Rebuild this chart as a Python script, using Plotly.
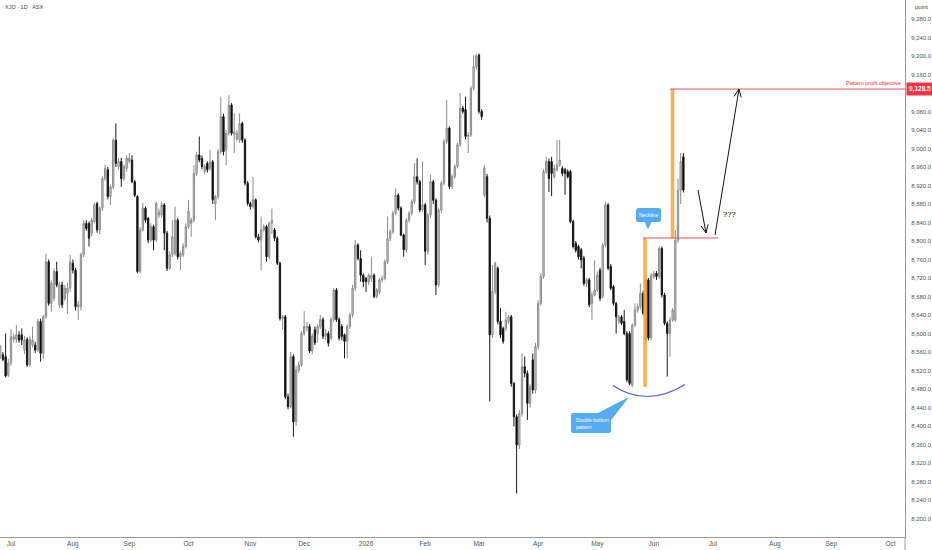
import math
import pandas as pd
import plotly.graph_objects as go

# ---------------- data ----------------
opens = [
    8550, 8554, 8550, 8510, 8536, 8588, 8587, 8597, 8597, 8564, 8587, 8532, 8575, 8575, 8564, 8626, 8557, 8636, 8755, 8665,
    8676, 8734, 8662, 8705, 8676, 8687, 8698, 8752, 8737, 8658, 8658, 8770, 8838, 8838, 8817, 8842, 8881, 8824, 8871, 8935,
    8954, 8896, 8917, 9018, 8961, 8972, 8935, 8957, 8972, 8975, 8928, 8896, 8734, 8824, 8871, 8849, 8802, 8831, 8802, 8856,
    8856, 8878, 8817, 8741, 8770,
    8773, 8845, 8766, 8770, 8788, 8831, 8838, 8845, 8946, 8986, 8978, 8950, 8968, 8957, 8971, 8880, 8896, 8993, 9069, 8997,
    9033, 9094, 9030, 9020, 9018, 9054, 9018, 8925, 8881, 8874, 8889, 8809, 8802, 8824, 8831, 8766, 8838, 8824, 8806, 8752,
    8633, 8636, 8463, 8442, 8550, 8409, 8521, 8532, 8600, 8612, 8615, 8562, 8608, 8600, 8615, 8630, 8594, 8600, 8590, 8630,
    8694, 8630, 8615,
    8597, 8583, 8615, 8640, 8698, 8791, 8762, 8726, 8719, 8712, 8719, 8726, 8680, 8690, 8716, 8719, 8755, 8805, 8820, 8860,
    8899, 8871, 8813, 8781, 8845, 8860, 8885, 8939, 8928, 8867, 8878, 8778, 8856, 8928, 8888, 8705, 8867, 8925, 9015, 9044,
    8918, 8939, 8961, 9008, 9087, 9084, 9026, 9029, 9130, 9177, 9202, 9080, 8900, 8939, 8849, 8597, 8691, 8741, 8626, 8611,
    8611, 8626,
    8636, 8492, 8420, 8359, 8427, 8528, 8514, 8449, 8543, 8478, 8572, 8665, 8723, 8950, 8972, 8972, 8939, 8954, 8964, 8957,
    8954, 8950, 8950, 8842, 8795, 8788, 8781, 8763, 8708, 8716, 8665, 8683, 8694, 8737, 8680, 8791, 8878, 8745, 8701, 8665,
    8626, 8636, 8626, 8600, 8600, 8488, 8618, 8651, 8658, 8687, 8586, 8716, 8590, 8723, 8730, 8723, 8784, 8683, 8622, 8600,
    8629, 8629, 8802, 8910, 8982,
]
highs = [
    8575, 8560, 8600, 8545, 8609, 8600, 8618, 8605, 8611, 8595, 8592, 8595, 8615, 8582, 8632, 8632, 8640, 8773, 8760, 8715,
    8740, 8755, 8712, 8712, 8705, 8710, 8770, 8760, 8742, 8670, 8775, 8845, 8845, 8842, 8850, 8883, 8885, 8875, 8940, 8965,
    8960, 8922, 9022, 9054, 8980, 8980, 8965, 8985, 8990, 8985, 8932, 8899, 8830, 8882, 8875, 8852, 8838, 8835, 8885, 8870,
    8885, 8882, 8822, 8778, 8845,
    8874, 8850, 8778, 8795, 8838, 8889, 8850, 8964, 8993, 9026, 8985, 8966, 8972, 8997, 8975, 8900, 8998, 9112, 9075, 9040,
    9115, 9098, 9076, 9040, 9076, 9058, 9022, 8930, 8885, 8939, 8892, 8815, 8853, 8836, 8835, 8842, 8870, 8828, 8810, 8755,
    8640, 8640, 8470, 8560, 8555, 8530, 8540, 8605, 8648, 8625, 8620, 8600, 8615, 8620, 8640, 8635, 8610, 8605, 8635, 8698,
    8698, 8635, 8620,
    8600, 8620, 8645, 8705, 8802, 8795, 8780, 8730, 8722, 8730, 8766, 8730, 8698, 8720, 8725, 8760, 8853, 8825, 8865, 8914,
    8903, 8875, 8816, 8850, 8865, 8890, 8968, 8979, 8932, 8972, 8882, 8860, 8943, 8932, 8892, 8872, 8930, 9020, 9105, 9048,
    8945, 8966, 9012, 9120, 9092, 9112, 9035, 9135, 9202, 9205, 9205, 9085, 8964, 8945, 8855, 8748, 8755, 8745, 8655, 8615,
    8647, 8640,
    8640, 8495, 8425, 8435, 8557, 8550, 8520, 8490, 8557, 8580, 8672, 8730, 8955, 8982, 8978, 8982, 8965, 9018, 9018, 8962,
    8958, 8955, 8954, 8846, 8800, 8792, 8785, 8768, 8720, 8720, 8690, 8758, 8734, 8742, 8796, 8885, 8882, 8750, 8705, 8668,
    8640, 8640, 8651, 8605, 8605, 8622, 8665, 8665, 8708, 8692, 8720, 8720, 8730, 8735, 8735, 8788, 8788, 8688, 8626, 8635,
    8655, 8823, 8935, 8990, 8990,
]
lows = [
    8545, 8540, 8505, 8506, 8530, 8580, 8580, 8580, 8575, 8555, 8528, 8528, 8570, 8558, 8560, 8539, 8545, 8632, 8660, 8647,
    8670, 8700, 8655, 8655, 8670, 8642, 8690, 8730, 8650, 8629, 8650, 8765, 8822, 8788, 8810, 8838, 8818, 8815, 8865, 8930,
    8890, 8878, 8912, 8960, 8955, 8917, 8930, 8950, 8968, 8925, 8895, 8730, 8730, 8820, 8840, 8795, 8798, 8780, 8798, 8850,
    8850, 8780, 8735, 8737, 8765,
    8768, 8760, 8737, 8765, 8784, 8826, 8809, 8840, 8940, 8970, 8955, 8945, 8948, 8952, 8880, 8845, 8890, 8988, 8985, 8964,
    9028, 9028, 8990, 9015, 9012, 9012, 8920, 8876, 8868, 8870, 8805, 8797, 8737, 8820, 8755, 8760, 8815, 8800, 8748, 8628,
    8608, 8458, 8436, 8438, 8377, 8400, 8515, 8528, 8595, 8605, 8558, 8555, 8575, 8580, 8610, 8588, 8585, 8572, 8585, 8625,
    8625, 8585, 8585,
    8546, 8546, 8610, 8635, 8692, 8758, 8712, 8700, 8690, 8705, 8712, 8676, 8676, 8685, 8710, 8715, 8750, 8800, 8815, 8856,
    8866, 8810, 8766, 8775, 8840, 8855, 8880, 8922, 8862, 8862, 8748, 8770, 8850, 8880, 8683, 8700, 8860, 8920, 9010, 8912,
    8912, 8935, 8957, 9004, 9075, 9020, 8990, 9025, 9125, 9170, 9075, 9062, 8895, 8840, 8453, 8590, 8685, 8620, 8590, 8578,
    8605, 8620,
    8485, 8399, 8254, 8350, 8420, 8505, 8413, 8440, 8470, 8470, 8565, 8660, 8718, 8945, 8906, 8897, 8935, 8950, 8960, 8940,
    8900, 8935, 8838, 8784, 8775, 8760, 8741, 8703, 8700, 8657, 8629, 8680, 8690, 8670, 8676, 8786, 8737, 8694, 8660, 8600,
    8620, 8618, 8596, 8495, 8488, 8484, 8614, 8645, 8652, 8640, 8575, 8585, 8585, 8718, 8716, 8718, 8678, 8618, 8507, 8550,
    8625, 8625, 8795, 8880, 8905,
]
closes = [
    8572, 8544, 8508, 8536, 8593, 8593, 8597, 8586, 8586, 8586, 8532, 8586, 8586, 8564, 8626, 8557, 8636, 8755, 8665, 8709,
    8734, 8705, 8705, 8662, 8698, 8698, 8755, 8737, 8658, 8662, 8770, 8838, 8827, 8806, 8845, 8878, 8824, 8871, 8935, 8957,
    8896, 8917, 9018, 8968, 8972, 8935, 8961, 8979, 8979, 8928, 8899, 8734, 8824, 8871, 8845, 8802, 8831, 8802, 8881, 8863,
    8878, 8817, 8741, 8770, 8809,
    8845, 8766, 8773, 8788, 8831, 8864, 8845, 8946, 8986, 8975, 8961, 8961, 8954, 8971, 8889, 8896, 8993, 9069, 8993, 9033,
    9094, 9033, 9036, 9033, 9054, 9018, 8925, 8881, 8874, 8889, 8809, 8802, 8824, 8831, 8766, 8838, 8845, 8806, 8752, 8633,
    8636, 8463, 8442, 8550, 8409, 8521, 8532, 8600, 8615, 8615, 8562, 8594, 8580, 8615, 8630, 8594, 8600, 8579, 8630, 8694,
    8630, 8590, 8594,
    8583, 8615, 8640, 8698, 8791, 8762, 8726, 8712, 8712, 8726, 8726, 8680, 8694, 8716, 8719, 8755, 8805, 8820, 8860, 8899,
    8871, 8813, 8781, 8845, 8860, 8885, 8939, 8928, 8867, 8878, 8778, 8856, 8928, 8888, 8705, 8867, 8925, 9015, 9044, 8918,
    8939, 8961, 9008, 9087, 9080, 9026, 9029, 9130, 9177, 9200, 9080, 9069, 8958, 8849, 8597, 8691, 8752, 8626, 8597, 8583,
    8629, 8636,
    8492, 8420, 8359, 8427, 8528, 8514, 8449, 8485, 8478, 8572, 8665, 8723, 8950, 8972, 8935, 8946, 8957, 8964, 8975, 8946,
    8946, 8939, 8842, 8788, 8780, 8766, 8759, 8708, 8716, 8662, 8683, 8694, 8726, 8676, 8791, 8878, 8741, 8698, 8665, 8636,
    8636, 8622, 8600, 8500, 8492, 8618, 8651, 8658, 8687, 8644, 8716, 8590, 8726, 8730, 8723, 8784, 8683, 8622, 8600, 8629,
    8651, 8802, 8910, 8972, 8910,
]
dates = pd.bdate_range("2025-06-25", periods=len(closes))

month_ticks = ["2025-07-01", "2025-08-01", "2025-09-01", "2025-10-01", "2025-11-03", "2025-12-01",
               "2026-01-01", "2026-02-02", "2026-03-02", "2026-04-01", "2026-05-01", "2026-06-01",
               "2026-07-01", "2026-08-03", "2026-09-01", "2026-10-01"]
month_labels = ["Jul", "Aug", "Sep", "Oct", "Nov", "Dec", "2026", "Feb", "Mar", "Apr", "May", "Jun",
                "Jul", "Aug", "Sep", "Oct"]
price_ticks = [8200, 8240, 8280, 8320, 8360, 8400, 8440, 8480, 8520, 8560, 8600, 8640, 8680, 8720,
               8760, 8800, 8840, 8880, 8920, 8960, 9000, 9040, 9080, 9160, 9200, 9240, 9280]

PATTERN_LOW = 8484.5
NECKLINE = 8806.5
TARGET = 9128.5

# ---------------- figure ----------------
W, H = 932, 550
PW, PH = 905, 537  # plot area in pixels


def px(x):
    return x / PW


def py(y):
    return 1 - y / PH


FONT = "Liberation Sans"
AXIS_COL = "#555555"
LINE_COL = "#9a9a9a"

fig = go.Figure(go.Candlestick(
    x=dates, open=opens, high=highs, low=lows, close=closes,
    increasing=dict(line=dict(color="#8c8c8c", width=1), fillcolor="#d4d4d4"),
    decreasing=dict(line=dict(color="#1a1a1a", width=1), fillcolor="#000000"),
    whiskerwidth=0, showlegend=False, hoverinfo="skip",
))

shapes = []
annotations = []

# axis frame extensions (vertical separator runs to the bottom of the page)
shapes.append(dict(type="line", xref="paper", yref="paper", x0=1, x1=1, y0=0, y1=py(H),
                   line=dict(color=LINE_COL, width=1)))

# orange measuring bars
ORANGE = "rgba(255,160,40,0.85)"
shapes.append(dict(type="line", xref="paper", yref="y", x0=px(645), x1=px(645),
                   y0=PATTERN_LOW, y1=NECKLINE, line=dict(color=ORANGE, width=3.5)))
shapes.append(dict(type="line", xref="paper", yref="y", x0=px(672.5), x1=px(672.5),
                   y0=NECKLINE, y1=TARGET, line=dict(color=ORANGE, width=3.5)))
# red horizontal lines
RED = "#f0505c"
shapes.append(dict(type="line", xref="paper", yref="y", x0=px(643), x1=px(718),
                   y0=NECKLINE, y1=NECKLINE, line=dict(color=RED, width=1)))
shapes.append(dict(type="line", xref="paper", yref="y", x0=px(670), x1=1,
                   y0=TARGET, y1=TARGET, line=dict(color=RED, width=1)))

# blue arc under the double bottom
shapes.append(dict(type="path", xref="paper", yref="paper",
                   path=f"M {px(613)},{py(385.5)} Q {px(647)},{py(408)} {px(685)},{py(384.5)}",
                   line=dict(color="#4a5fe6", width=1.2)))


def rounded_rect(x0, y0, x1, y1, r):
    return (f"M {px(x0 + r)},{py(y0)} L {px(x1 - r)},{py(y0)} Q {px(x1)},{py(y0)} {px(x1)},{py(y0 + r)} "
            f"L {px(x1)},{py(y1 - r)} Q {px(x1)},{py(y1)} {px(x1 - r)},{py(y1)} "
            f"L {px(x0 + r)},{py(y1)} Q {px(x0)},{py(y1)} {px(x0)},{py(y1 - r)} "
            f"L {px(x0)},{py(y0 + r)} Q {px(x0)},{py(y0)} {px(x0 + r)},{py(y0)} Z")


def polygon(pts):
    return "M " + " L ".join(f"{px(x)},{py(y)}" for x, y in pts) + " Z"


BLUE = "#55acf0"
# Neckline callout
shapes.append(dict(type="path", xref="paper", yref="paper", path=rounded_rect(636, 208, 661, 222, 2.5),
                   fillcolor=BLUE, line=dict(width=0)))
shapes.append(dict(type="path", xref="paper", yref="paper",
                   path=polygon([(644.5, 221.5), (651.5, 221.5), (648, 229.5)]),
                   fillcolor=BLUE, line=dict(width=0)))
annotations.append(dict(xref="paper", yref="paper", x=px(648.5), y=py(215), text="Neckline",
                        showarrow=False, font=dict(family=FONT, size=5, color="white"),
                        xanchor="center", yanchor="middle"))
# Double-bottom callout
shapes.append(dict(type="path", xref="paper", yref="paper", path=rounded_rect(571, 413, 611, 433, 2.5),
                   fillcolor=BLUE, line=dict(width=0)))
shapes.append(dict(type="path", xref="paper", yref="paper",
                   path=polygon([(597, 413.5), (610.5, 421), (629, 397)]),
                   fillcolor=BLUE, line=dict(width=0)))
annotations.append(dict(xref="paper", yref="paper", x=px(574), y=py(423), text="Double-bottom<br>pattern",
                        showarrow=False, align="left", font=dict(family=FONT, size=5, color="white"),
                        xanchor="left", yanchor="middle"))


def arrow(x0, y0, x1, y1, head=8, half=3.6):
    dx, dy = x1 - x0, y1 - y0
    L = math.hypot(dx, dy)
    ux, uy = dx / L, dy / L
    bx, by = x1 - head * ux, y1 - head * uy
    nx, ny = -uy, ux
    out = [dict(type="line", xref="paper", yref="paper", x0=px(x0), y0=py(y0), x1=px(x1), y1=py(y1),
                line=dict(color="#131313", width=1))]
    for s in (1, -1):
        out.append(dict(type="line", xref="paper", yref="paper", x0=px(bx + s * half * nx), y0=py(by + s * half * ny),
                        x1=px(x1), y1=py(y1), line=dict(color="#131313", width=1)))
    return out


shapes += arrow(698, 190, 706, 233)
shapes += arrow(715, 235, 739, 89)
annotations.append(dict(xref="paper", yref="paper", x=px(729), y=py(214), text="???", showarrow=False,
                        font=dict(family="DejaVu Serif", size=8, color="#111111"),
                        xanchor="center", yanchor="middle"))

# target labels
annotations.append(dict(xref="paper", yref="y", x=1, y=TARGET, text="Pattern profit objective",
                        showarrow=False, xanchor="right", yanchor="bottom", xshift=-2, yshift=1,
                        font=dict(family=FONT, size=5.5, color="#e8303e")))
annotations.append(dict(xref="paper", yref="y", x=1, y=TARGET, text="<b>9,128.5</b>",
                        showarrow=False, xanchor="left", yanchor="middle", xshift=1,
                        bgcolor="#f23645", borderpad=2, font=dict(family=FONT, size=6.5, color="white")))
# title & unit
annotations.append(dict(xref="paper", yref="paper", x=px(3), y=py(7), text="XJO · 1D · ASX",
                        showarrow=False, xanchor="left", yanchor="middle",
                        font=dict(family=FONT, size=5.5, color="#444444")))
annotations.append(dict(xref="paper", yref="paper", x=px(913), y=py(7), text="point",
                        showarrow=False, xanchor="left", yanchor="middle",
                        font=dict(family=FONT, size=6, color="#444444")))

fig.update_layout(
    width=W, height=H,
    margin=dict(l=0, r=W - PW, t=0, b=H - PH),
    paper_bgcolor="white", plot_bgcolor="white",
    shapes=shapes, annotations=annotations,
    showlegend=False,
    font=dict(family=FONT, size=7, color=AXIS_COL),
)
fig.update_xaxes(
    type="date",
    range=["2025-06-24 21:50", "2026-10-08 09:36"],
    rangebreaks=[dict(bounds=["sat", "mon"])],
    rangeslider=dict(visible=False),
    tickmode="array", tickvals=month_ticks, ticktext=month_labels,
    showgrid=False, zeroline=False,
    showline=True, linecolor=LINE_COL, linewidth=1, mirror=False,
    ticks="", tickfont=dict(family=FONT, size=6.5, color=AXIS_COL),
    automargin=False,
)
fig.update_yaxes(
    side="right", range=[8160, 9321],
    tickmode="array", tickvals=price_ticks, tickformat=",.1f",
    showgrid=False, zeroline=False,
    showline=True, linecolor=LINE_COL, linewidth=1,
    ticks="", ticklabelstandoff=4,
    tickfont=dict(family=FONT, size=6, color=AXIS_COL),
    automargin=False,
)

fig.write_html("out.html", config={"displayModeBar": False},
               post_script="document.body.style.margin='0';document.body.style.padding='0';")
